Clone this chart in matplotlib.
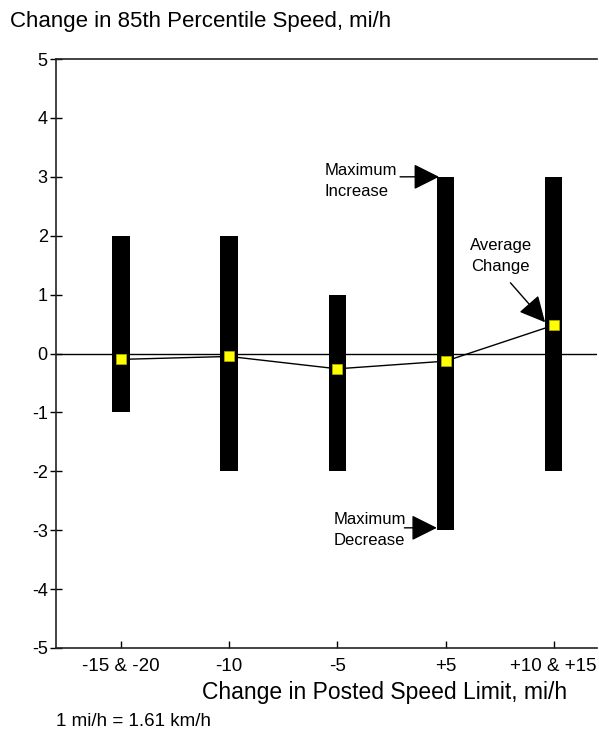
import matplotlib.pyplot as plt
import numpy as np

plt.rcParams['font.family'] = ['Liberation Sans', 'DejaVu Sans']

# change in posted limit groups
categories = ['-15 & -20', '-10', '-5', '+5', '+10 & +15']
# range of change in 85th percentile speed, mi/h
max_decrease = [-1, -2, -2, -3, -2]
max_increase = [2, 2, 1, 3, 3]
avg_change = [-0.1, -0.05, -0.26, -0.13, 0.48]
y_ticks = [5, 4, 3, 2, 1, 0, -1, -2, -3, -4, -5]

fig = plt.figure(figsize=(5.99, 7.36), dpi=100)
ax = fig.add_axes([0.0935, 0.1196, 0.9032, 0.8002])

x = np.arange(len(categories))
lows = np.array(max_decrease)
highs = np.array(max_increase)

ax.axhline(0, color='black', lw=1, zorder=1)
ax.bar(x, highs - lows, bottom=lows, width=0.16, color='black', zorder=2)
ax.plot(x, avg_change, color='black', lw=1, zorder=3)
ax.plot(x, avg_change, ls='none', marker='s', ms=7, mfc='#ffff00',
        mec='#b0b000', mew=0.5, zorder=4)

ax.set_xlim(-0.6, 4.4)
ax.set_ylim(-5, 5)
ax.set_xticks(x)
ax.set_xticklabels(categories, fontsize=13.5)
ax.set_yticks(y_ticks)
ax.set_yticklabels([str(v) for v in y_ticks], fontsize=13)
ax.tick_params(axis='x', direction='in', length=5, width=1, pad=7)
ax.tick_params(axis='y', direction='inout', length=8, width=1, pad=2)

ax.spines['right'].set_visible(False)
for s in ['left', 'top', 'bottom']:
    ax.spines[s].set_linewidth(1.2)
    ax.spines[s].set_color('#222222')

# callouts
arrow = dict(arrowstyle='-|>,head_length=1.6,head_width=0.8', color='black', lw=1,
             shrinkA=0, shrinkB=0)
ax.annotate('', xy=(2.94, max_increase[3]), xytext=(2.58, max_increase[3]), arrowprops=arrow)
ax.text(1.88, 2.93, 'Maximum\nIncrease', fontsize=12, ha='left', va='center',
        linespacing=1.5)
ax.annotate('', xy=(2.92, max_decrease[3] + 0.04), xytext=(2.62, max_decrease[3] + 0.04),
            arrowprops=arrow)
ax.text(1.97, -3.0, 'Maximum\nDecrease', fontsize=12, ha='left', va='center',
        linespacing=1.5)
ax.annotate('', xy=(3.92, avg_change[4] + 0.05), xytext=(3.6, 1.2), arrowprops=arrow)
ax.text(3.51, 1.65, 'Average\nChange', fontsize=12, ha='center', va='center',
        linespacing=1.5)

fig.text(0.017, 1 - 22 / 736, 'Change in 85th Percentile Speed, mi/h', fontsize=16,
         ha='left', va='center')
fig.text(385 / 599, 1 - 692 / 736, 'Change in Posted Speed Limit, mi/h', fontsize=16.5,
         ha='center', va='center')
fig.text(56 / 599, 1 - 722 / 736, '1 mi/h = 1.61 km/h', fontsize=13.5, ha='left',
         va='center')

fig.savefig('out.png', dpi=100)
